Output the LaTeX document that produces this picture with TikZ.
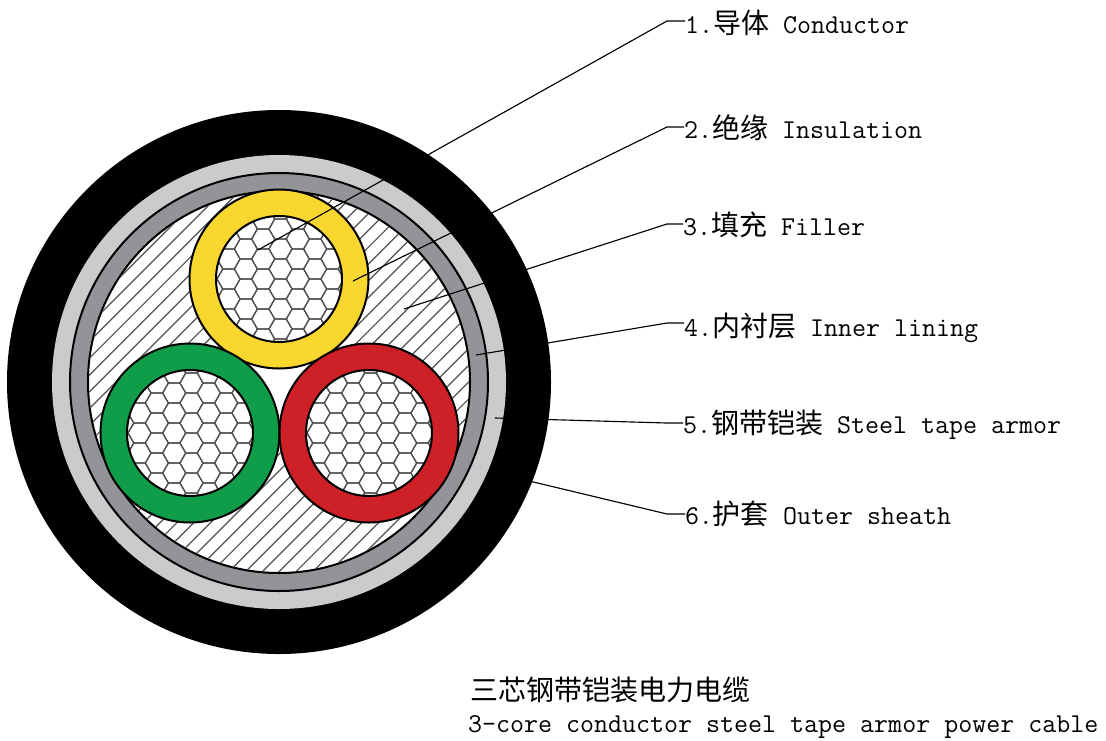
\documentclass[tikz,border=0pt]{standalone}
\usepackage{fontspec}
\newfontfamily\cjk{Noto Sans CJK SC}
\definecolor{cy}{HTML}{F9D72F}
\definecolor{cg}{HTML}{0F9D4A}
\definecolor{cr}{HTML}{CE2027}
\definecolor{lg}{HTML}{C9CBCD}
\definecolor{dg}{HTML}{929497}
\definecolor{hc}{HTML}{505050}
\newcommand\cn[1]{{\fontsize{21pt}{24pt}\selectfont\cjk #1}}
\tikzset{
  ring/.style={draw=black,line width=1.5pt},
  leader/.style={draw=black,line width=0.85pt},
  lab/.style={anchor=base west,inner sep=0pt,outer sep=0pt,font=\fontsize{20.4pt}{24pt}\ttfamily},
  hexline/.style={draw=hc,line width=0.9pt},
  pics/core/.style={code={
    \fill[#1,draw=black,line width=1.5pt] (0,0) circle[radius=89.5];
    \fill[white] (0,0) circle[radius=63];
    \begin{scope}
      \clip (0,0) circle[radius=63];
      \foreach \c in {-5,...,5}{
        \pgfmathsetmacro\cx{1.5+17.32*\c}
        \pgfmathsetmacro\off{mod(abs(\c),2)==0?-10:0}
        \foreach \r in {-4,...,4}{
          \pgfmathsetmacro\cyy{\off+20*\r}
          \draw[hexline,shift={(\cx,\cyy)}] (-11.55,0)--(-5.77,-10)--(5.77,-10)--(11.55,0)--(5.77,10)--(-5.77,10)--cycle;
        }
      }
    \end{scope}
    \draw[black,line width=1.5pt] (0,0) circle[radius=63];
  }}
}
\begin{document}
\begin{tikzpicture}[x=0.75pt,y=-0.75pt]
\useasboundingbox (0,0) rectangle (1106,740);
\fill[white] (0,0) rectangle (1106,740);
% cable
\coordinate (C) at (279,382);
\fill[black] (C) circle[radius=272];
\fill[lg] (C) circle[radius=227];
\fill[dg,ring] (C) circle[radius=209];
\fill[white,ring] (C) circle[radius=191];
\begin{scope}
  \clip (C) circle[radius=190];
  \foreach \k in {-30,...,30}{
    \draw[hc,line width=0.9pt] ([shift={(-300,300)}]368+16.8*\k,382) -- ++(600,-600);
  }
\end{scope}
\fill[white] (279,279) -- (190,433) -- (369,433) -- cycle;
\pic at (279,279) {core=cy};
\pic at (190,433) {core=cg};
\pic at (369,433) {core=cr};
% labels
\node[lab] (l1) at (685,33) {1.\cn{导体} Conductor};
\node[lab] (l2) at (684,138) {2.\cn{绝缘} Insulation};
\node[lab] (l3) at (683,235) {3.\cn{填充} Filler};
\node[lab] (l4) at (684,336) {4.\cn{内衬层} Inner lining};
\node[lab] (l5) at (683,433) {5.\cn{钢带铠装} Steel tape armor};
\node[lab] (l6) at (685,524) {6.\cn{护套} Outer sheath};
\node[lab] (t1) at (470,700) {\cn{三芯钢带铠装电力电缆}};
\node[lab] (t2) at (468,732) {3-core conductor steel tape armor power cable};
% leaders
\foreach \i/\ex/\ey/\ky in {1/258/250/21,2/353/281/127,3/404/309/224,4/476/355/323,5/495/418/423,6/500/474/514}{
  \coordinate (e\i) at (\ex,\ey);
  \coordinate (k\i) at (667,\ky);
  \draw[leader] (e\i) -- (k\i) -- (l\i.west |- k\i);
}
\end{tikzpicture}
\end{document}
